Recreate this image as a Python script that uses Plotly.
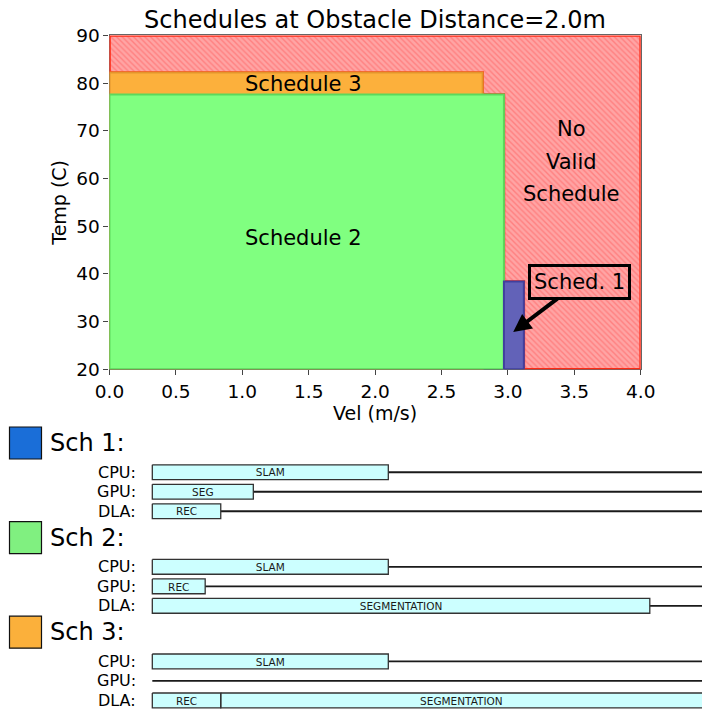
import plotly.graph_objects as go

FONT = "DejaVu Sans"

# ---- operating regions (velocity in m/s, temperature in C) ----
sched_names = ["Schedule 1", "Schedule 2", "Schedule 3"]
sched_vel = [(2.97, 3.12), (0.0, 2.97), (0.0, 2.81)]
sched_temp = [(20.0, 38.4), (20.0, 77.6), (20.0, 82.2)]
vel_range = (0.0, 4.0)
temp_range = (20.0, 90.0)
vel_ticks = [0.0, 0.5, 1.0, 1.5, 2.0, 2.5, 3.0, 3.5, 4.0]
temp_ticks = [20, 30, 40, 50, 60, 70, 80, 90]

# ---- per-schedule task timelines (start, end, label) on each engine ----
engines = ["CPU", "GPU", "DLA"]
sch1_tasks = {"CPU": [(0, 50.0, "SLAM")], "GPU": [(0, 21.4, "SEG")], "DLA": [(0, 14.5, "REC")]}
sch2_tasks = {"CPU": [(0, 50.0, "SLAM")], "GPU": [(0, 11.2, "REC")], "DLA": [(0, 105.4, "SEGMENTATION")]}
sch3_tasks = {"CPU": [(0, 50.0, "SLAM")], "GPU": [],
              "DLA": [(0, 14.5, "REC"), (14.5, 119.9, "SEGMENTATION")]}
timelines = [sch1_tasks, sch2_tasks, sch3_tasks]
timeline_titles = ["Sch 1:", "Sch 2:", "Sch 3:"]
time_view = (-32.27, 116.46)

# styling
fill_cols = ["#6262b8", "#80ff80", "#fcb03c"]
edge_cols = ["#40409e", "#5cd85c", "#e3952c"]
swatch_cols = ["#1a6ed8", "#80f080", "#fbb03b"]

fig = go.Figure()


def rect_xy(x0, x1, y0, y1):
    return [x0, x1, x1, x0, x0], [y0, y0, y1, y1, y0]


# "No Valid Schedule" region: everything above the envelope of the valid schedules
edges = sorted(set([v for pair in sched_vel for v in pair] + [vel_range[1]]))
stairs = []
for a, b in zip(edges[:-1], edges[1:]):
    tops = [t[1] for v, t in zip(sched_vel, sched_temp) if v[0] <= a and v[1] >= b]
    stairs.append((a, b, max(tops) if tops else temp_range[0]))
px, py = [vel_range[0]], [temp_range[1]]
for a, b, top in stairs:
    px += [a, b]
    py += [top, top]
px += [vel_range[1], vel_range[1], vel_range[0]]
py += [temp_range[0], temp_range[1], temp_range[1]]
fig.add_trace(go.Scatter(
    x=px, y=py, mode="lines", fill="toself", fillcolor="#ffa0a0",
    fillpattern=dict(shape="\\", bgcolor="#ffa4a4", fgcolor="#ff5c5c", size=4, solidity=0.35),
    line=dict(color="rgba(0,0,0,0)", width=0), hoverinfo="skip", showlegend=False,
    xaxis="x", yaxis="y"))
# outline of the invalid region drawn on its own so it sits above the hatching
fig.add_trace(go.Scatter(
    x=px, y=py, mode="lines", line=dict(color="#ff2a14", width=2.6),
    hoverinfo="skip", showlegend=False, xaxis="x", yaxis="y"))

# valid schedules, back to front
for i in [2, 1, 0]:
    xs, ys = rect_xy(*sched_vel[i], *sched_temp[i])
    fig.add_trace(go.Scatter(
        x=xs, y=ys, mode="lines", fill="toself", fillcolor=fill_cols[i],
        line=dict(color=edge_cols[i], width=2), name=sched_names[i],
        showlegend=False, xaxis="x", yaxis="y"))

# ---- timeline panel ----
block_step = 4.85
row_offset = {"CPU": 1.5, "GPU": 2.5, "DLA": 3.5}
bar_h = 0.38

line_x, line_y = [], []
for b, tasks in enumerate(timelines):
    for eng in engines:
        yy = b * block_step + row_offset[eng]
        line_x += [0, 400, None]
        line_y += [yy, yy, None]
fig.add_trace(go.Scatter(x=line_x, y=line_y, mode="lines",
                         line=dict(color="#1a1a1a", width=1.8),
                         hoverinfo="skip", showlegend=False, xaxis="x2", yaxis="y2"))

bx, by, tx, ty, tt = [], [], [], [], []
for b, tasks in enumerate(timelines):
    for eng in engines:
        yy = b * block_step + row_offset[eng]
        for s, e, lab in tasks[eng]:
            xs, ys = rect_xy(s, e, yy - bar_h, yy + bar_h)
            bx += xs + [None]
            by += ys + [None]
            tx.append((s + min(e, time_view[1])) / 2)
            ty.append(yy + 0.08)
            tt.append(lab)
fig.add_trace(go.Scatter(x=bx, y=by, mode="lines", fill="toself", fillcolor="#ccffff",
                         line=dict(color="#333333", width=1.3),
                         hoverinfo="skip", showlegend=False, xaxis="x2", yaxis="y2"))
fig.add_trace(go.Scatter(x=tx, y=ty, mode="text", text=tt,
                         textfont=dict(family=FONT, size=10.5, color="#1a1a1a"),
                         textposition="middle center",
                         hoverinfo="skip", showlegend=False, xaxis="x2", yaxis="y2"))

annotations = []
shapes = []
for b, title in enumerate(timeline_titles):
    yc = b * block_step
    shapes.append(dict(type="rect", xref="paper", yref="y2",
                       x0=9.5 / 702, x1=41.5 / 702, y0=yc - 0.82, y1=yc + 0.82,
                       fillcolor=swatch_cols[b], line=dict(color="#111111", width=1.2)))
    annotations.append(dict(text=title, xref="paper", yref="y2", x=48 / 702, y=yc,
                            xanchor="left", yanchor="middle", showarrow=False,
                            font=dict(family=FONT, size=24, color="black")))
    for eng in engines:
        annotations.append(dict(text=eng + ":", xref="paper", yref="y2", x=137.5 / 702,
                                y=yc + row_offset[eng], xanchor="right", yanchor="middle",
                                showarrow=False, font=dict(family=FONT, size=16, color="black")))

# region labels in the top chart
lab_font = dict(family=FONT, size=21, color="black")
annotations += [
    dict(text="Schedule 3", x=1.46, y=(sched_temp[1][1] + sched_temp[2][1]) / 2,
         xref="x", yref="y", showarrow=False, font=lab_font),
    dict(text="Schedule 2", x=1.46, y=47.5, xref="x", yref="y", showarrow=False, font=lab_font),
    dict(text="No", x=3.48, y=70.3, xref="x", yref="y", showarrow=False, font=lab_font),
    dict(text="Valid", x=3.48, y=63.5, xref="x", yref="y", showarrow=False, font=lab_font),
    dict(text="Schedule", x=3.48, y=56.7, xref="x", yref="y", showarrow=False, font=lab_font),
    dict(text="Sched. 1", x=3.04, y=27.8, xref="x", yref="y", ax=66, ay=-50,
         showarrow=True, arrowhead=2, arrowsize=0.9, arrowwidth=4, arrowcolor="black",
         bordercolor="black", borderwidth=3, borderpad=3, font=lab_font),
]

fig.update_layout(
    width=702, height=709,
    margin=dict(l=0, r=0, t=0, b=0),
    paper_bgcolor="white", plot_bgcolor="white",
    font=dict(family=FONT, color="black"),
    title=dict(text="Schedules at Obstacle Distance=2.0m", x=375 / 702, xanchor="center",
               y=1 - 20 / 709, yanchor="middle", yref="container",
               font=dict(family=FONT, size=24, color="black")),
    xaxis=dict(domain=[109.5 / 702, 640.7 / 702], range=list(vel_range), anchor="y",
               tickvals=vel_ticks, tickformat=".1f", ticks="outside", ticklen=5,
               tickcolor="#444", showline=True, linecolor="#666", linewidth=1.2, mirror=True,
               layer="below traces",
               showgrid=False, zeroline=False, tickfont=dict(size=18.5),
               title=dict(text="Vel (m/s)", font=dict(size=19), standoff=4), automargin=False),
    yaxis=dict(domain=[(709 - 369.3) / 709, (709 - 35.4) / 709], range=list(temp_range),
               anchor="x", tickvals=temp_ticks, ticks="outside", ticklen=5, tickcolor="#444",
               showline=True, linecolor="#666", linewidth=1.2, mirror=True,
               layer="below traces",
               showgrid=False, zeroline=False, tickfont=dict(size=18.5),
               title=dict(text="Temp (C)", font=dict(size=19), standoff=4), automargin=False),
    xaxis2=dict(domain=[0, 1], range=list(time_view), anchor="y2", visible=False),
    yaxis2=dict(domain=[0, (709 - 418) / 709], range=[13.641, -1.282], anchor="x2",
                visible=False),
    annotations=annotations,
    shapes=shapes,
    showlegend=False,
)

fig.write_html("out.html")
